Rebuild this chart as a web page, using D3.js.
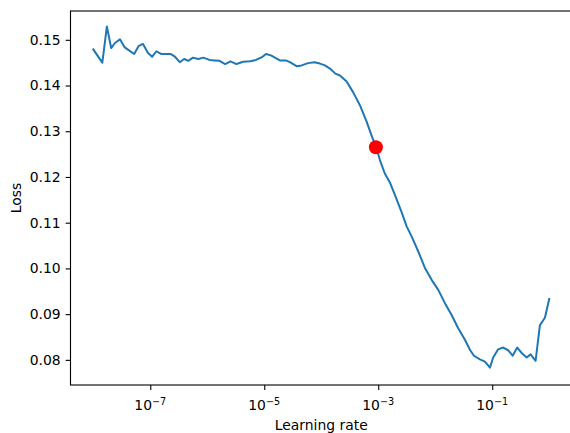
<!DOCTYPE html>
<html>
<head>
<meta charset="utf-8">
<script src="https://cdn.jsdelivr.net/npm/d3@7"></script>
<style>
  body { margin: 0; background: #fff; }
  text { font-family: "DejaVu Sans", sans-serif; }
</style>
</head>
<body>
<svg id="chart" width="570" height="433"></svg>
<script>
// learning rates
const lrs = [
  1.0e-8, 1.44e-8, 1.73e-8, 2.06e-8, 2.40e-8, 2.94e-8, 3.52e-8, 4.23e-8, 5.22e-8, 6.21e-8,
  7.45e-8, 9.12e-8, 1.08e-7, 1.28e-7, 1.54e-7, 2.26e-7, 2.71e-7, 3.29e-7, 3.93e-7, 4.64e-7,
  5.61e-7, 6.95e-7, 8.51e-7, 1.09e-6, 1.35e-6, 1.64e-6, 2.06e-6, 2.55e-6, 3.25e-6, 4.28e-6,
  5.68e-6, 7.15e-6, 9.12e-6, 1.07e-5, 1.31e-5, 1.54e-5, 1.88e-5, 2.40e-5, 2.82e-5, 3.75e-5,
  4.53e-5, 5.85e-5, 7.60e-5, 9.48e-5, 1.16e-4, 1.42e-4, 1.77e-4, 2.13e-4, 2.79e-4, 3.64e-4,
  4.77e-4, 6.25e-4, 7.82e-4, 9.30e-4, 1.07e-3, 1.31e-3, 1.60e-3, 1.96e-3, 2.57e-3, 3.15e-3,
  3.85e-3, 5.04e-3, 6.59e-3, 8.65e-3, 1.13e-2, 1.48e-2, 1.94e-2, 2.53e-2, 3.32e-2, 4.06e-2,
  4.78e-2, 6.08e-2, 7.45e-2, 9.12e-2, 1.04e-1, 1.27e-1, 1.56e-1, 1.91e-1, 2.28e-1, 2.75e-1,
  3.28e-1, 4.02e-1, 4.72e-1, 5.77e-1, 6.87e-1, 8.41e-1, 1.0
];

const losses = [
  0.1479, 0.1450, 0.1529, 0.1482, 0.1493, 0.1501, 0.1484, 0.1477, 0.1469, 0.1486,
  0.1491, 0.1471, 0.1463, 0.1475, 0.1469, 0.1469, 0.1463, 0.1451, 0.1458, 0.1454,
  0.1461, 0.1458, 0.1461, 0.1456, 0.1455, 0.1454, 0.1447, 0.1453, 0.1447, 0.1452,
  0.1453, 0.1456, 0.1462, 0.1469, 0.1466, 0.1461, 0.1455, 0.1455, 0.1451, 0.1442,
  0.1444, 0.1449, 0.1451, 0.1448, 0.1444, 0.1437, 0.1426, 0.1422, 0.1409, 0.1385,
  0.1357, 0.1321, 0.1287, 0.1264, 0.1237, 0.1207, 0.1188, 0.1161, 0.1123, 0.1092,
  0.1070, 0.1037, 0.1001, 0.0975, 0.0953, 0.0924, 0.0898, 0.0869, 0.0844, 0.0822,
  0.0809, 0.0801, 0.0796, 0.0783, 0.0805, 0.0823, 0.0827, 0.0821, 0.0809, 0.0827,
  0.0815, 0.0805, 0.0812, 0.0798, 0.0876, 0.0892, 0.0933
];

// suggested point (red marker)
const suggestedLr = 9.1e-4;
const suggestedLoss = 0.1265;

const xTickExps = [-7, -5, -3, -1];
const yTicks = [0.08, 0.09, 0.10, 0.11, 0.12, 0.13, 0.14, 0.15];

const fontSize = 13.9;
const margin = { top: 11, left: 70.5 };
const plotRight = 572;   // right spine falls just outside the picture
const plotBottom = 385;

const svg = d3.select('#chart');

const x = d3.scaleLog()
  .domain([Math.pow(10, -8.4), Math.pow(10, 0.4)])
  .range([margin.left, plotRight]);

const y = d3.scaleLinear()
  .domain([0.0745, 0.1563])
  .range([plotBottom, margin.top]);

// frame
svg.append('rect')
  .attr('x', margin.left)
  .attr('y', margin.top)
  .attr('width', plotRight - margin.left)
  .attr('height', plotBottom - margin.top)
  .attr('fill', 'none')
  .attr('stroke', '#000')
  .attr('stroke-width', 1.1);

// y axis
const yAxis = svg.append('g')
  .attr('transform', `translate(${margin.left},0)`)
  .call(d3.axisLeft(y)
    .tickValues(yTicks)
    .tickSize(4.9)
    .tickPadding(4.9)
    .tickFormat(d3.format('.2f')));
yAxis.select('.domain').remove();
yAxis.selectAll('line').attr('stroke', '#000').attr('stroke-width', 1.1);
yAxis.selectAll('text')
  .attr('font-size', fontSize)
  .attr('font-family', '"DejaVu Sans", sans-serif')
  .attr('fill', '#000');

// x axis (log, labels as 10^n)
const xAxis = svg.append('g')
  .attr('transform', `translate(0,${plotBottom})`)
  .call(d3.axisBottom(x)
    .tickValues(xTickExps.map(e => Math.pow(10, e)))
    .tickSize(4.9)
    .tickFormat(''));
xAxis.select('.domain').remove();
xAxis.selectAll('line').attr('stroke', '#000').attr('stroke-width', 1.1);

const xLabels = svg.append('g').selectAll('text')
  .data(xTickExps)
  .enter()
  .append('text')
  .attr('x', d => x(Math.pow(10, d)))
  .attr('y', 410)
  .attr('text-anchor', 'middle')
  .attr('font-size', fontSize)
  .attr('fill', '#000');
xLabels.append('tspan').text('10');
xLabels.append('tspan')
  .attr('dy', -5)
  .attr('font-size', 9.7)
  .text(d => '\u2212' + Math.abs(d));

// axis titles
svg.append('text')
  .attr('x', (margin.left + plotRight) / 2)
  .attr('y', 430)
  .attr('text-anchor', 'middle')
  .attr('font-size', fontSize)
  .attr('fill', '#000')
  .text('Learning rate');

svg.append('text')
  .attr('transform', `translate(20.5,${(margin.top + plotBottom) / 2}) rotate(-90)`)
  .attr('text-anchor', 'middle')
  .attr('font-size', fontSize)
  .attr('fill', '#000')
  .text('Loss');

// loss curve
const points = lrs.map((lr, i) => [lr, losses[i]]);
const line = d3.line()
  .x(d => x(d[0]))
  .y(d => y(d[1]));

svg.append('path')
  .datum(points)
  .attr('d', line)
  .attr('fill', 'none')
  .attr('stroke', '#1f77b4')
  .attr('stroke-width', 2)
  .attr('stroke-linejoin', 'round')
  .attr('stroke-linecap', 'square');

svg.append('circle')
  .attr('cx', x(suggestedLr))
  .attr('cy', y(suggestedLoss))
  .attr('r', 7)
  .attr('fill', '#ff0000');
</script>
</body>
</html>
